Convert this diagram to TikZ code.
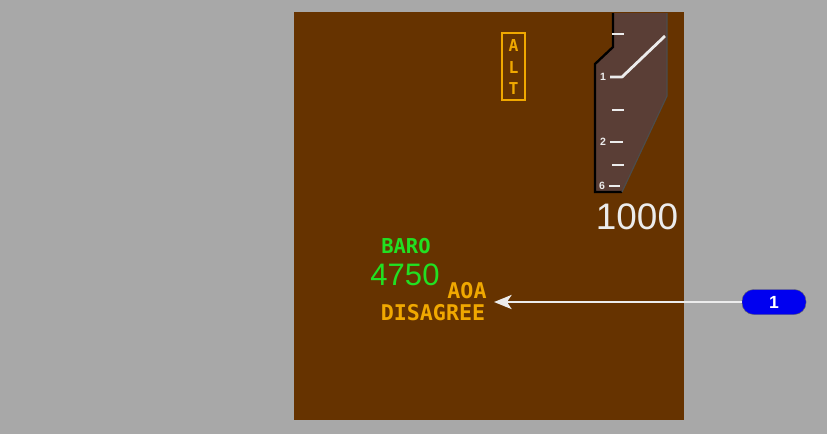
\documentclass[tikz,border=0pt]{standalone}
\usepackage{fontspec}
\setmainfont{Liberation Sans}
\newfontfamily\monofont{DejaVu Sans Mono}
\usetikzlibrary{arrows.meta,positioning}

\definecolor{bggray}{HTML}{A8A8A8}
\definecolor{panelbrown}{HTML}{663300}
\definecolor{tapebrown}{HTML}{5A3E36}
\definecolor{amber}{HTML}{F0A800}
\definecolor{pfdgreen}{HTML}{22E022}
\definecolor{calloutblue}{HTML}{0000F0}
\definecolor{linewhite}{HTML}{ECECEC}

\begin{document}
\begin{tikzpicture}[
    x=0.03cm, y=-0.03cm,
    >=Stealth,
    % --- text styles ---
    amberlbl/.style = {text=amber, font=\monofont\bfseries\fontsize{18.5pt}{19pt}\selectfont,
                       inner sep=0pt},
    greenlbl/.style = {text=pfdgreen, inner sep=0pt},
    tapelbl/.style  = {text=linewhite, font=\bfseries\fontsize{9pt}{9pt}\selectfont,
                       inner sep=0pt},
    tick/.style     = {draw=linewhite, line width=2.4pt},
    altletter/.style = {text=amber, font=\monofont\bfseries\fontsize{14pt}{14pt}\selectfont,
                        inner sep=0pt},
    callout/.style  = {fill=calloutblue, draw=black!60, text=white, rounded corners=10pt,
                       font=\bfseries\fontsize{15pt}{15pt}\selectfont,
                       minimum width=1.92cm, minimum height=0.75cm, inner sep=0pt},
    pointer/.style  = {draw=linewhite, line width=2.4pt,
                       arrows={-Stealth[length=15pt, width=12pt, inset=4pt]}},
]

%============ BACKGROUND ============
\fill[bggray] (0,0) rectangle (827,434);
\useasboundingbox (0,0) rectangle (827,434);
\fill[panelbrown] (294,12) rectangle (684,420);

%============ ALTITUDE TAPE ============
\fill[tapebrown] (613,13) -- (667,13) -- (667,96) -- (622,192)
  -- (595,192) -- (595,64) -- (613,47) -- cycle;
\draw[black, line width=2pt] (613,13) -- (613,47) -- (595,64) -- (595,192) -- (622,192);
\draw[black!70, line width=1pt] (667,13) -- (667,96) -- (622,192);

\foreach \y in {34,110,165}
  \draw[tick] (612,\y) -- (624,\y);
\draw[tick, line join=round] (610,77) -- (622,77) -- (665,36);
\draw[tick] (610,142) -- (623,142);
\draw[tick] (609,186) -- (620,186);

\node (tapeone) [tapelbl] at (603,77) {1};
\node (tapetwo) [tapelbl] at (603,142) {2};
\node (tapesix) [tapelbl] at (602,186) {6};

\node (altval) [text=linewhite, inner sep=0pt,
  font=\fontsize{31.5pt}{32pt}\selectfont] at (637,217) {1000};

%============ ALT FLAG ============
\node (altbox) [draw=amber, line width=1.6pt, minimum width=0.69cm,
  minimum height=2.0cm, inner sep=0pt] at (513.5,66.5) {};
\node (alta) [altletter] at (513.5,46) {A};
\node (altl) [altletter] at (513.5,68) {L};
\node (altt) [altletter] at (513.5,89) {T};

%============ BARO / AOA ============
\node (baro) [greenlbl, font=\monofont\bfseries\fontsize{17.5pt}{18pt}\selectfont] at (406,246) {BARO};
\node (baroval) [greenlbl, font=\fontsize{26.5pt}{27pt}\selectfont] at (405,275) {4750};
\node (aoa) [amberlbl] at (467,291) {AOA};
\node (disagree) [amberlbl] at (433,313) {DISAGREE};

%============ CALLOUT ============
\node (badge) [callout] at (774,302) {1};
\coordinate (tip) at (494,302);
\draw[pointer] (badge.west) -- (tip);

\end{tikzpicture}
\end{document}
